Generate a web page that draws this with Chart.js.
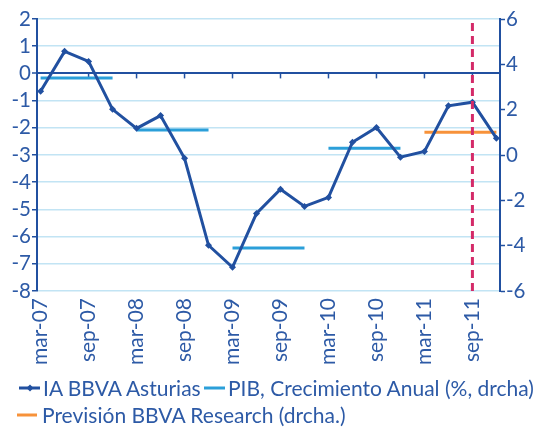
<!DOCTYPE html>
<html>
<head>
<meta charset="utf-8">
<script src="https://cdn.jsdelivr.net/npm/chart.js@4/dist/chart.umd.min.js"></script>
<style>
  html, body { margin: 0; padding: 0; background: #ffffff; }
  #wrap { position: relative; width: 537px; height: 428px; overflow: hidden; }
  canvas { position: absolute; left: 0; top: 0; }
  .leg { position: absolute; display: flex; align-items: center; height: 24px; font-family: Lato, sans-serif; font-size: 21px; line-height: 24px; color: #2d5aa6; white-space: nowrap; }
  .leg svg { margin-right: 3px; }
</style>
</head>
<body>
<div id="wrap">
  <canvas id="c" width="537" height="428"></canvas>
  <div class="leg" style="left:19px; top:376px;"><svg width="21" height="10"><line x1="0" y1="5" x2="21" y2="5" stroke="#2150a0" stroke-width="3"/><rect x="8.5" y="2.5" width="5" height="5" fill="#2150a0" transform="rotate(45 11 5)"/></svg><span id="l1"></span></div>
  <div class="leg" style="left:204px; top:376px;"><svg width="21" height="10"><line x1="0" y1="5" x2="21" y2="5" stroke="#2b9fd9" stroke-width="3"/></svg><span id="l2"></span></div>
  <div class="leg" style="left:17px; top:403px;"><svg width="22" height="10"><line x1="0" y1="5" x2="20" y2="5" stroke="#f7923a" stroke-width="3"/></svg><span id="l3"></span></div>
</div>
<script>
// ---- data ----
const categories = ['mar-07','jun-07','sep-07','dic-07','mar-08','jun-08','sep-08','dic-08','mar-09','jun-09','sep-09','dic-09','mar-10','jun-10','sep-10','dic-10','mar-11','jun-11','sep-11','dic-11'];
const iaValues = [-0.66, 0.81, 0.44, -1.32, -2.02, -1.55, -3.12, -6.32, -7.13, -5.15, -4.26, -4.89, -4.56, -2.53, -1.99, -3.08, -2.87, -1.19, -1.06, -2.38];
const pibYearStart = ['mar-07','mar-08','mar-09','mar-10'];
const pibYearEnd   = ['dic-07','dic-08','dic-09','dic-10'];
const pibValues = [3.4, 1.1, -4.1, 0.3];
const forecastStart = 'mar-11';
const forecastEnd = 'dic-11';
const forecastValue = 1.0;
const forecastMarker = 'sep-11';
const xTickLabels = ['mar-07','sep-07','mar-08','sep-08','mar-09','sep-09','mar-10','sep-10','mar-11','sep-11'];
const leftTicks = [-8, -7, -6, -5, -4, -3, -2, -1, 0, 1, 2];
const rightTicks = [-6, -4, -2, 0, 2, 4, 6];
const seriesNames = ['IA BBVA Asturias', 'PIB, Crecimiento Anual (%, drcha)', 'Previsión BBVA Research (drcha.)'];

// ---- styles ----
const DARK = '#2150a0';
const TEXT = '#2d5aa6';
const GRID = '#c2e4f4';
const PIB = '#2b9fd9';
const ORANGE = '#f7923a';
const RED = '#d42a68';
const FONT = 'Lato, sans-serif';

document.getElementById('l1').textContent = seriesNames[0];
document.getElementById('l2').textContent = seriesNames[1];
document.getElementById('l3').textContent = seriesNames[2];

const idx = c => categories.indexOf(c);
const iaData = iaValues.map((v, i) => ({x: i, y: v}));
const pibData = [];
pibValues.forEach((v, k) => {
  const a = idx(pibYearStart[k]), b = idx(pibYearEnd[k]);
  pibData.push({x: a, y: v}, {x: b, y: v}, {x: b + 0.5, y: null});
});
const fcData = [{x: idx(forecastStart), y: forecastValue}, {x: idx(forecastEnd), y: forecastValue}];
const markerData = [{x: idx(forecastMarker), y: leftTicks[0]}, {x: idx(forecastMarker), y: leftTicks[leftTicks.length - 1]}];
const xTickIdx = xTickLabels.map(idx);

const zeroTicks = {
  id: 'zeroTicks',
  beforeDatasetsDraw(chart) {
    const {ctx, scales} = chart;
    const y0 = scales.y.getPixelForValue(0);
    ctx.save();
    ctx.strokeStyle = DARK;
    ctx.lineWidth = 1.5;
    xTickIdx.forEach(i => {
      if (i === 0) return;
      const x = scales.x.getPixelForValue(i);
      ctx.beginPath();
      ctx.moveTo(x, y0);
      ctx.lineTo(x, y0 + 5);
      ctx.stroke();
    });
    ctx.restore();
  }
};

new Chart(document.getElementById('c'), {
  type: 'line',
  data: {
    datasets: [
      { label: 'marker', data: markerData, yAxisID: 'y', borderColor: RED, borderWidth: 3, borderDash: [8, 5], pointRadius: 0, clip: false, order: 0 },
      { label: seriesNames[0], data: iaData, yAxisID: 'y', borderColor: DARK, backgroundColor: DARK, borderWidth: 3, pointStyle: 'rectRot', pointRadius: 3.5, pointBorderWidth: 0, tension: 0, order: 1 },
      { label: seriesNames[1], data: pibData, yAxisID: 'y2', borderColor: PIB, borderWidth: 3, pointRadius: 0, spanGaps: false, order: 2 },
      { label: seriesNames[2], data: fcData, yAxisID: 'y2', borderColor: ORANGE, borderWidth: 3, pointRadius: 0, order: 2 }
    ]
  },
  options: {
    responsive: false,
    animation: false,
    layout: { padding: { top: 19, left: 0, right: 0, bottom: 0 } },
    plugins: { legend: { display: false }, tooltip: { enabled: false } },
    scales: {
      x: {
        type: 'linear', min: -0.15, max: categories.length - 1 + 0.15,
        afterBuildTicks: s => { s.ticks = xTickIdx.map(v => ({value: v})); },
        ticks: { callback: v => categories[v], maxRotation: 90, minRotation: 90, autoSkip: false, color: TEXT, font: { family: FONT, size: 21 }, padding: 7 },
        grid: { display: false, drawTicks: false },
        border: { display: false },
        afterFit: s => { s.height = 137; }
      },
      y: {
        position: 'left', min: leftTicks[0], max: leftTicks[leftTicks.length - 1],
        afterBuildTicks: s => { s.ticks = leftTicks.map(v => ({value: v})); },
        ticks: { autoSkip: false, color: TEXT, font: { family: FONT, size: 20.5 }, padding: 1 },
        grid: { color: c => c.tick.value === 0 ? DARK : GRID, lineWidth: c => c.tick.value === 0 ? 2 : 1.5, tickLength: 5, tickColor: DARK, tickWidth: 1.5 },
        border: { color: DARK, width: 2 },
        afterFit: s => { s.width = 37; }
      },
      y2: {
        position: 'right', min: rightTicks[0], max: rightTicks[rightTicks.length - 1],
        afterBuildTicks: s => { s.ticks = rightTicks.map(v => ({value: v})); },
        ticks: { autoSkip: false, color: TEXT, font: { family: FONT, size: 20.5 }, padding: 1 },
        grid: { drawOnChartArea: false, tickLength: 5, color: DARK, tickWidth: 1.5 },
        border: { color: DARK, width: 2 },
        afterFit: s => { s.width = 37; }
      }
    }
  },
  plugins: [zeroTicks]
});
</script>
</body>
</html>
